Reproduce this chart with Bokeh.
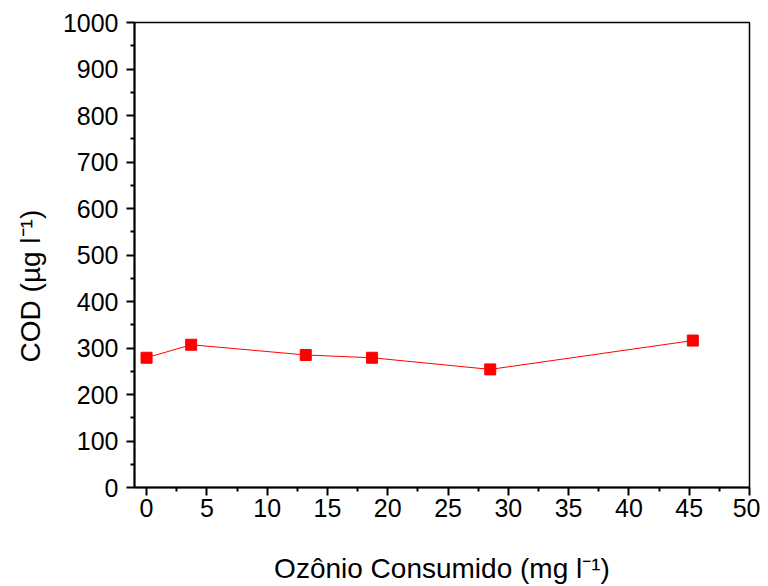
from bokeh.plotting import figure
from bokeh.models import FixedTicker, Range1d
from bokeh.embed import file_html
from bokeh.resources import INLINE

ozonio = [0.0, 3.7, 13.2, 18.7, 28.5, 45.3]
cod = [279, 307, 285, 279, 254, 316]
x_ticks = [0, 5, 10, 15, 20, 25, 30, 35, 40, 45, 50]
y_ticks = [0, 100, 200, 300, 400, 500, 600, 700, 800, 900, 1000]

p = figure(width=760, height=586, output_backend="svg", toolbar_location=None,
           x_range=Range1d(-1, 50), y_range=Range1d(0, 1000),
           min_border_left=134, min_border_right=11, min_border_top=22, min_border_bottom=98)
p.grid.visible = False
p.outline_line_color = "black"
p.outline_line_width = 1.5
p.background_fill_color = "white"
p.border_fill_color = "white"

p.line(ozonio, cod, line_color="red", line_width=1)
p.scatter(ozonio, cod, marker="square", size=11, fill_color="red", line_color="red")

FONT = "Liberation Sans"
for ax in (p.xaxis[0], p.yaxis[0]):
    ax.axis_line_width = 2
    ax.axis_line_color = "black"
    ax.major_tick_line_width = 2
    ax.minor_tick_line_width = 2
    ax.major_tick_out = 8
    ax.major_tick_in = 0
    ax.minor_tick_out = 4
    ax.minor_tick_in = 0
    ax.major_label_text_font = FONT
    ax.major_label_text_font_size = "25px"
    ax.major_label_text_color = "black"
    ax.axis_label_text_font = FONT
    ax.axis_label_text_font_size = "28px"
    ax.axis_label_text_font_style = "normal"
    ax.axis_label_text_color = "black"

p.xaxis[0].ticker = FixedTicker(ticks=x_ticks, minor_ticks=[t + 2.5 for t in x_ticks[:-1]])
p.yaxis[0].ticker = FixedTicker(ticks=y_ticks, minor_ticks=[t + 50 for t in y_ticks[:-1]])
p.xaxis[0].axis_label = "Ozônio Consumido (mg l⁻¹)"
p.yaxis[0].axis_label = "COD (µg l⁻¹)" + "\u00a0" * 8
p.xaxis[0].major_label_standoff = 3
p.yaxis[0].major_label_standoff = 8
p.xaxis[0].axis_label_standoff = 33
p.yaxis[0].axis_label_standoff = 14

open("out.html", "w").write(file_html(p, INLINE))
